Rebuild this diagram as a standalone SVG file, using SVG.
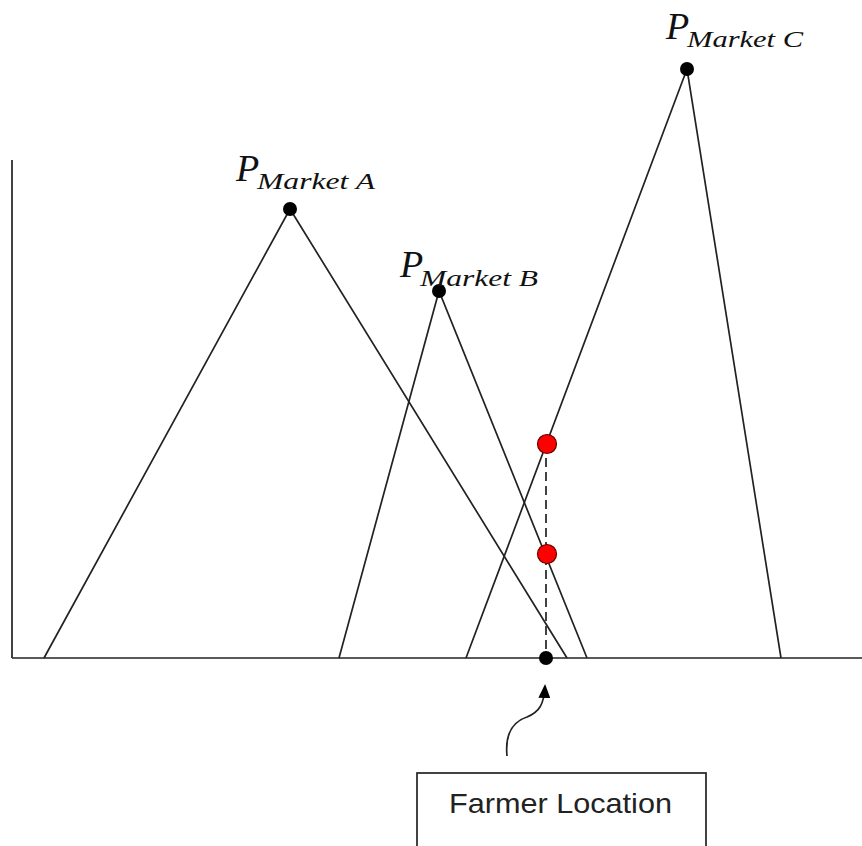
<svg xmlns="http://www.w3.org/2000/svg" width="862" height="846" viewBox="0 0 862 846">
<style>
.ln{stroke:#222;stroke-width:1.7;fill:none}
.dash{stroke:#222;stroke-width:1.7;stroke-dasharray:9,5;fill:none}
.dot{fill:#000}
.red{fill:#ff0000;stroke:#600;stroke-width:1.2}
.p{font-family:"Liberation Serif","DejaVu Serif",serif;font-style:italic;font-size:38px;fill:#111}
.sub{font-family:"Liberation Serif","DejaVu Serif",serif;font-style:italic;font-size:24px;fill:#111}
.box{fill:#fff;stroke:#222;stroke-width:1.7}
.lbl{font-family:"Liberation Sans","Open Sans",sans-serif;font-size:28px;fill:#222}
</style>
<defs>
<marker id="ah" markerWidth="14" markerHeight="12" refX="12" refY="6" orient="auto" markerUnits="userSpaceOnUse" viewBox="0 0 14 12">
<path d="M0,0 L14,6 L0,12 Z" fill="#000"/>
</marker>
</defs>
<rect width="862" height="846" fill="#fff"/>
<g id="axes">
<line class="ln" x1="12" y1="160" x2="12" y2="658"/>
<line class="ln" x1="12" y1="658" x2="862" y2="658"/>
</g>
<g id="connectors">
<polyline class="ln" points="44,658 290,209 567,658"/>
<polyline class="ln" points="339,658 439,291 587,658"/>
<polyline class="ln" points="466,658 687,69 781,658"/>
<line class="dash" x1="546" y1="444" x2="546" y2="658"/>
<path class="ln" d="M507,756 C505,735 512,722 527,717 C539,712 544,705 545,686" marker-end="url(#ah)"/>
</g>
<g id="market-a">
<circle class="dot" cx="290" cy="209" r="7"/>
<text class="p" x="236" y="181">P</text>
<text class="sub" x="257" y="189" textLength="118" lengthAdjust="spacingAndGlyphs">Market A</text>
</g>
<g id="market-b">
<circle class="dot" cx="439" cy="291" r="7"/>
<text class="p" x="400" y="277">P</text>
<text class="sub" x="420" y="286" textLength="118" lengthAdjust="spacingAndGlyphs">Market B</text>
</g>
<g id="market-c">
<circle class="dot" cx="687" cy="69" r="7"/>
<text class="p" x="666" y="39">P</text>
<text class="sub" x="687" y="47" textLength="116" lengthAdjust="spacingAndGlyphs">Market C</text>
</g>
<g id="price-c">
<circle class="red" cx="547" cy="444" r="9.5"/>
</g>
<g id="price-b">
<circle class="red" cx="547" cy="554" r="9.5"/>
</g>
<g id="farmer-point">
<circle class="dot" cx="546" cy="658" r="7"/>
</g>
<g id="farmer-location">
<rect class="box" x="417" y="773" width="289" height="100"/>
<text class="lbl" x="449" y="813" textLength="223" lengthAdjust="spacingAndGlyphs">Farmer Location</text>
</g>
</svg>
